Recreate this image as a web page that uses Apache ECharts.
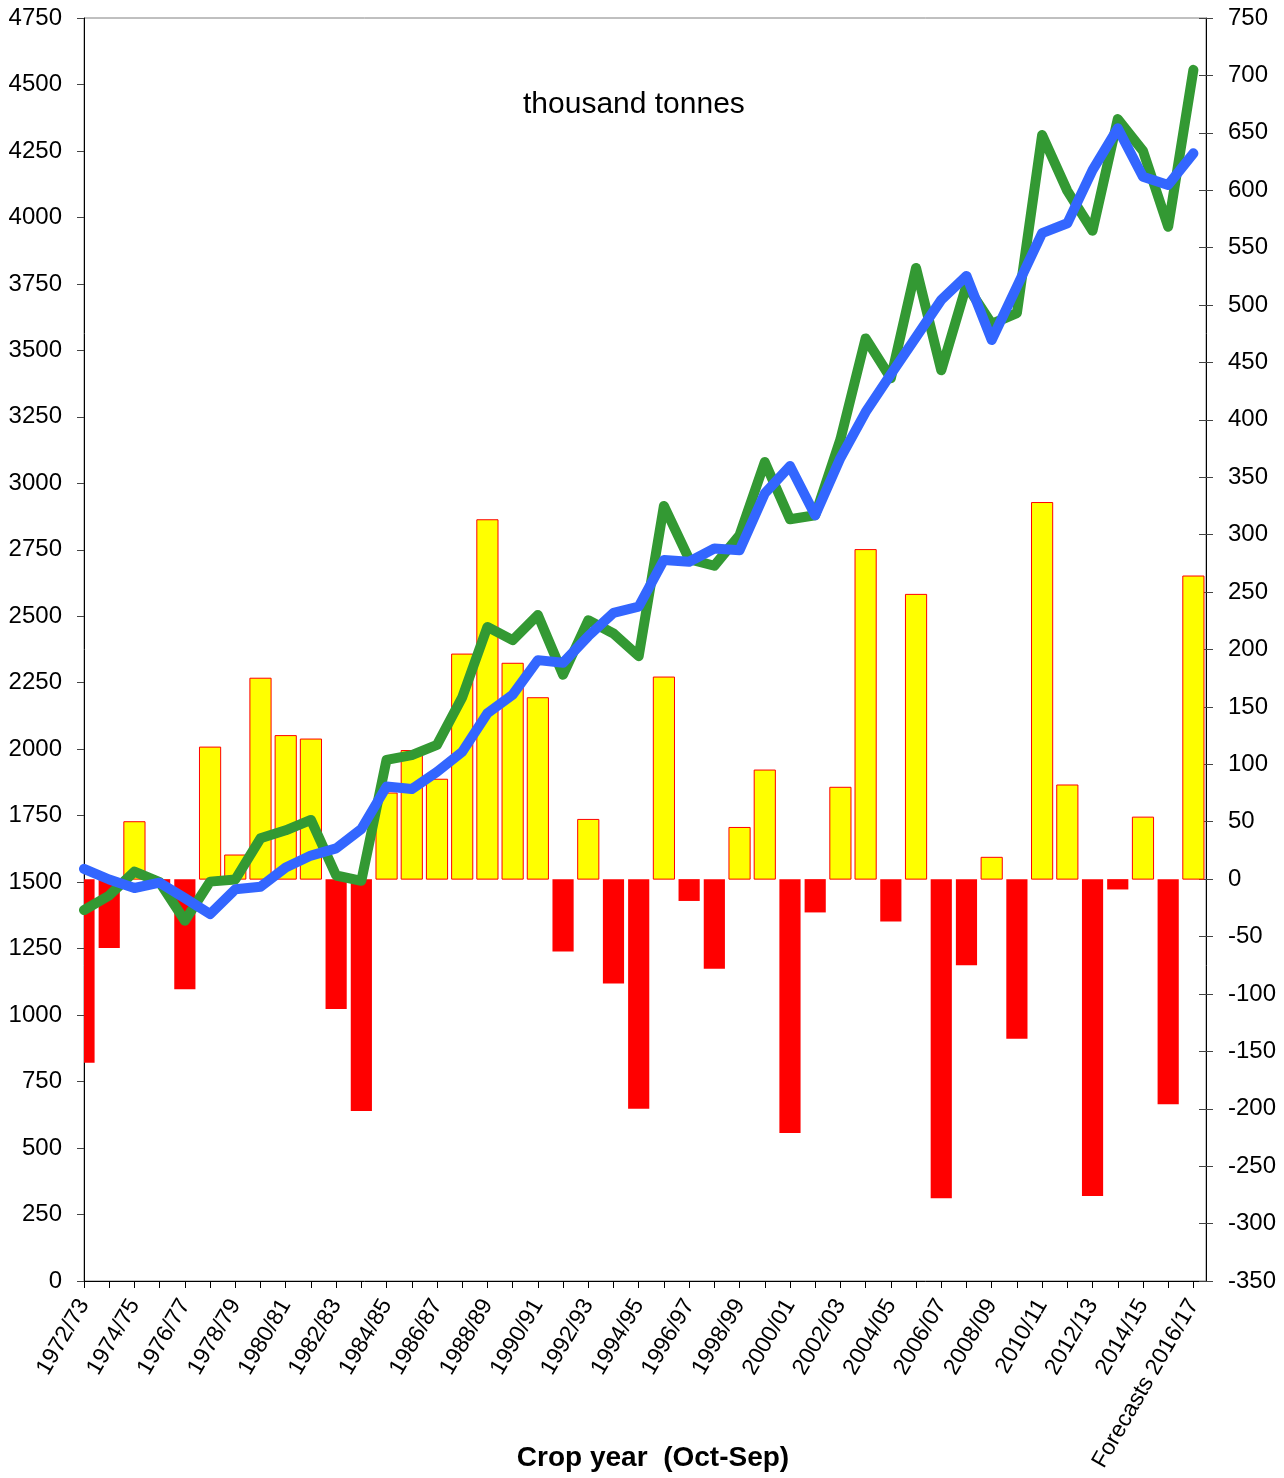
<!DOCTYPE html>
<html>
<head>
<meta charset="utf-8">
<script src="https://cdn.jsdelivr.net/npm/echarts@6/dist/echarts.min.js"></script>
<style>
html,body{margin:0;padding:0;background:#fff;}
#chart{width:1284px;height:1478px;}
</style>
</head>
<body>
<div id="chart"></div>
<script>
// crop years (x axis)
var years = ['1972/73','1973/74','1974/75','1975/76','1976/77','1977/78','1978/79','1979/80',
    '1980/81','1981/82','1982/83','1983/84','1984/85','1985/86','1986/87','1987/88','1988/89',
    '1989/90','1990/91','1991/92','1992/93','1993/94','1994/95','1995/96','1996/97','1997/98',
    '1998/99','1999/00','2000/01','2001/02','2002/03','2003/04','2004/05','2005/06','2006/07',
    '2007/08','2008/09','2009/10','2010/11','2011/12','2012/13','2013/14','2014/15','2015/16',
    'Forecasts 2016/17'];
// green line, left axis
var production = [1395,1450,1540,1500,1355,1502,1510,1665,1695,1734,1525,1505,1960,1978,2016,
    2195,2460,2410,2505,2280,2485,2435,2350,2915,2715,2690,2805,3080,2865,2880,3165,3545,3395,
    3810,3425,3745,3600,3640,4310,4100,3950,4370,4250,3965,4555];
// blue line, left axis
var consumption = [1550,1510,1478,1498,1440,1380,1473,1483,1555,1600,1627,1700,1860,1850,1915,
    1990,2135,2205,2335,2325,2425,2513,2536,2712,2705,2755,2748,2962,3065,2880,3095,3268,3410,
    3550,3690,3780,3539,3740,3941,3978,4178,4335,4153,4122,4241];
// bars, right axis
var balance = [-160,-60,50,-5,-96,115,21,175,125,122,-113,-202,75,112,87,196,313,188,158,-63,52,
    -91,-200,176,-19,-78,45,95,-221,-29,80,287,-37,248,-278,-75,19,-139,328,82,-276,-9,54,-196,264];

var font = 'Liberation Sans, Arial, sans-serif';

function toPoints(arr){
    var out = [];
    for(var i=0;i<arr.length;i++){
        out.push([i, arr[i]]);
    }
    return out;
}

// bars are centred on the ticks, so the first one is cut by the left axis
function renderBar(params, api){
    var i = api.value(0);
    var v = api.value(1);
    var base = api.coord([i, 0]);
    var top = api.coord([i, v]);
    var w = api.size([1, 0])[0] * 0.84;
    var style;
    if(v >= 0){
        style = {fill: '#FFFF00', stroke: '#FF0000', lineWidth: 1};
    }else{
        style = {fill: '#FF0000', lineWidth: 0};
    }
    return {
        type: 'rect',
        shape: {
            x: base[0] - w / 2,
            y: Math.min(base[1], top[1]),
            width: w,
            height: Math.abs(top[1] - base[1])
        },
        style: style
    };
}

var myChart = echarts.init(document.getElementById('chart'));
var option = {
    animation: false,
    backgroundColor: '#fff',
    title: {
        text: 'thousand tonnes',
        left: 518,
        top: 85,
        textStyle: {fontFamily: font, fontSize: 30, fontWeight: 'normal', color: '#000'}
    },
    grid: {
        left: 84, right: 78, top: 18, bottom: 197,
        outerBoundsMode: 'none',
        show: true, borderColor: '#808080', borderWidth: 1
    },
    xAxis: {
        type: 'value',
        min: 0,
        max: 44.5,
        interval: 1,
        name: 'Crop year  (Oct-Sep)',
        nameLocation: 'middle',
        nameGap: 163,
        nameMoveOverlap: false,
        nameTextStyle: {fontFamily: font, fontSize: 28, fontWeight: 'bold', color: '#000', padding: [0, 0, 0, 16]},
        axisLine: {lineStyle: {color: '#000', width: 1}},
        axisTick: {length: 7, lineStyle: {color: '#000'}},
        splitLine: {show: false},
        axisLabel: {
            rotate: 60,
            margin: 20,
            fontFamily: font,
            fontSize: 23,
            color: '#000',
            showMaxLabel: false,
            formatter: function(v){
                if(v % 2 === 0 && years[v]) return years[v];
                return '';
            }
        }
    },
    yAxis: [
        {
            type: 'value',
            position: 'left',
            min: 0, max: 4750, interval: 250,
            axisLine: {show: true, lineStyle: {color: '#000'}},
            axisTick: {show: true, length: 7, lineStyle: {color: '#444'}},
            splitLine: {show: false},
            axisLabel: {margin: 22, fontFamily: font, fontSize: 24, color: '#000',
                formatter: function(v){ return String(v); }}
        },
        {
            type: 'value',
            position: 'right',
            min: -350, max: 750, interval: 50,
            axisLine: {show: true, lineStyle: {color: '#000'}},
            axisTick: {show: true, length: 7, lineStyle: {color: '#444'}},
            splitLine: {show: false},
            axisLabel: {margin: 22, fontFamily: font, fontSize: 24, color: '#000',
                formatter: function(v){ return String(v); }}
        },
        {
            // inner half of the crossing ticks on the right axis
            type: 'value',
            position: 'right',
            min: -350, max: 750, interval: 50,
            axisLine: {show: false},
            axisTick: {show: true, inside: true, length: 7, lineStyle: {color: '#444'}},
            splitLine: {show: false},
            axisLabel: {show: false}
        }
    ],
    series: [
        {
            name: 'balance',
            type: 'custom',
            yAxisIndex: 1,
            clip: true,
            renderItem: renderBar,
            encode: {x: 0, y: 1},
            data: toPoints(balance)
        },
        {
            name: 'production',
            type: 'line',
            yAxisIndex: 0,
            symbol: 'none',
            lineStyle: {color: '#339933', width: 10, cap: 'round', join: 'round'},
            itemStyle: {color: '#339933'},
            data: toPoints(production)
        },
        {
            name: 'consumption',
            type: 'line',
            yAxisIndex: 0,
            symbol: 'none',
            lineStyle: {color: '#3366FF', width: 10, cap: 'round', join: 'round'},
            itemStyle: {color: '#3366FF'},
            data: toPoints(consumption)
        }
    ]
};
myChart.setOption(option);
</script>
</body>
</html>
